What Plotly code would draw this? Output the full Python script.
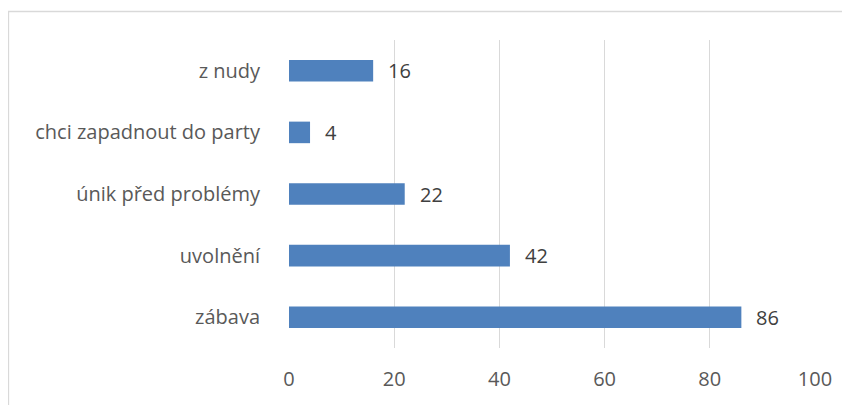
import plotly.graph_objects as go

categories = ["zábava", "uvolnění", "únik před problémy", "chci zapadnout do party", "z nudy"]
values = [86, 42, 22, 4, 16]
x_ticks = [0, 20, 40, 60, 80, 100]

# page body has an 8px margin; figure sized to fit the window
W, H = 842, 397
L, R, T, B = 281, 35, 32, 57
pw, ph = W - L - R, H - T - B

fig = go.Figure()
fig.add_trace(go.Bar(
    x=values, y=categories, orientation="h",
    marker=dict(color="#4f81bd", line=dict(width=0)),
    hoverinfo="skip",
))

for c, v in zip(categories, values):
    fig.add_annotation(x=v, y=c, text=str(v), showarrow=False,
                       xanchor="left", xshift=13,
                       font=dict(family="Open Sans", size=20, color="#404040"))

# outer chart border (right and bottom edges fall outside the view)
fig.add_shape(type="rect", xref="paper", yref="paper",
              x0=(0.5 - L) / pw, x1=(W + 5 - L) / pw,
              y0=-(H + 5 - T - ph) / ph, y1=1 + (T - 3.5) / ph,
              line=dict(color="#d9d9d9", width=1.3), layer="below")

fig.update_layout(
    width=W, height=H,
    margin=dict(l=L, r=R, t=T, b=B, autoexpand=False),
    paper_bgcolor="white", plot_bgcolor="white",
    showlegend=False,
    bargap=0.65,
    font=dict(family="Open Sans", size=20, color="#595959"),
    xaxis=dict(range=[0, 100], tickvals=x_ticks, showgrid=True,
               gridcolor="#d9d9d9", gridwidth=1.3, zeroline=False,
               showline=False, ticks="", fixedrange=True, automargin=False,
               ticklabelstandoff=17,
               tickfont=dict(size=20, color="#595959")),
    yaxis=dict(categoryorder="array", categoryarray=categories,
               showgrid=False, zeroline=False, showline=False, ticks="",
               ticklabelstandoff=28, automargin=False,
               tickfont=dict(size=20, color="#595959")),
)

fig.write_html("out.html")
